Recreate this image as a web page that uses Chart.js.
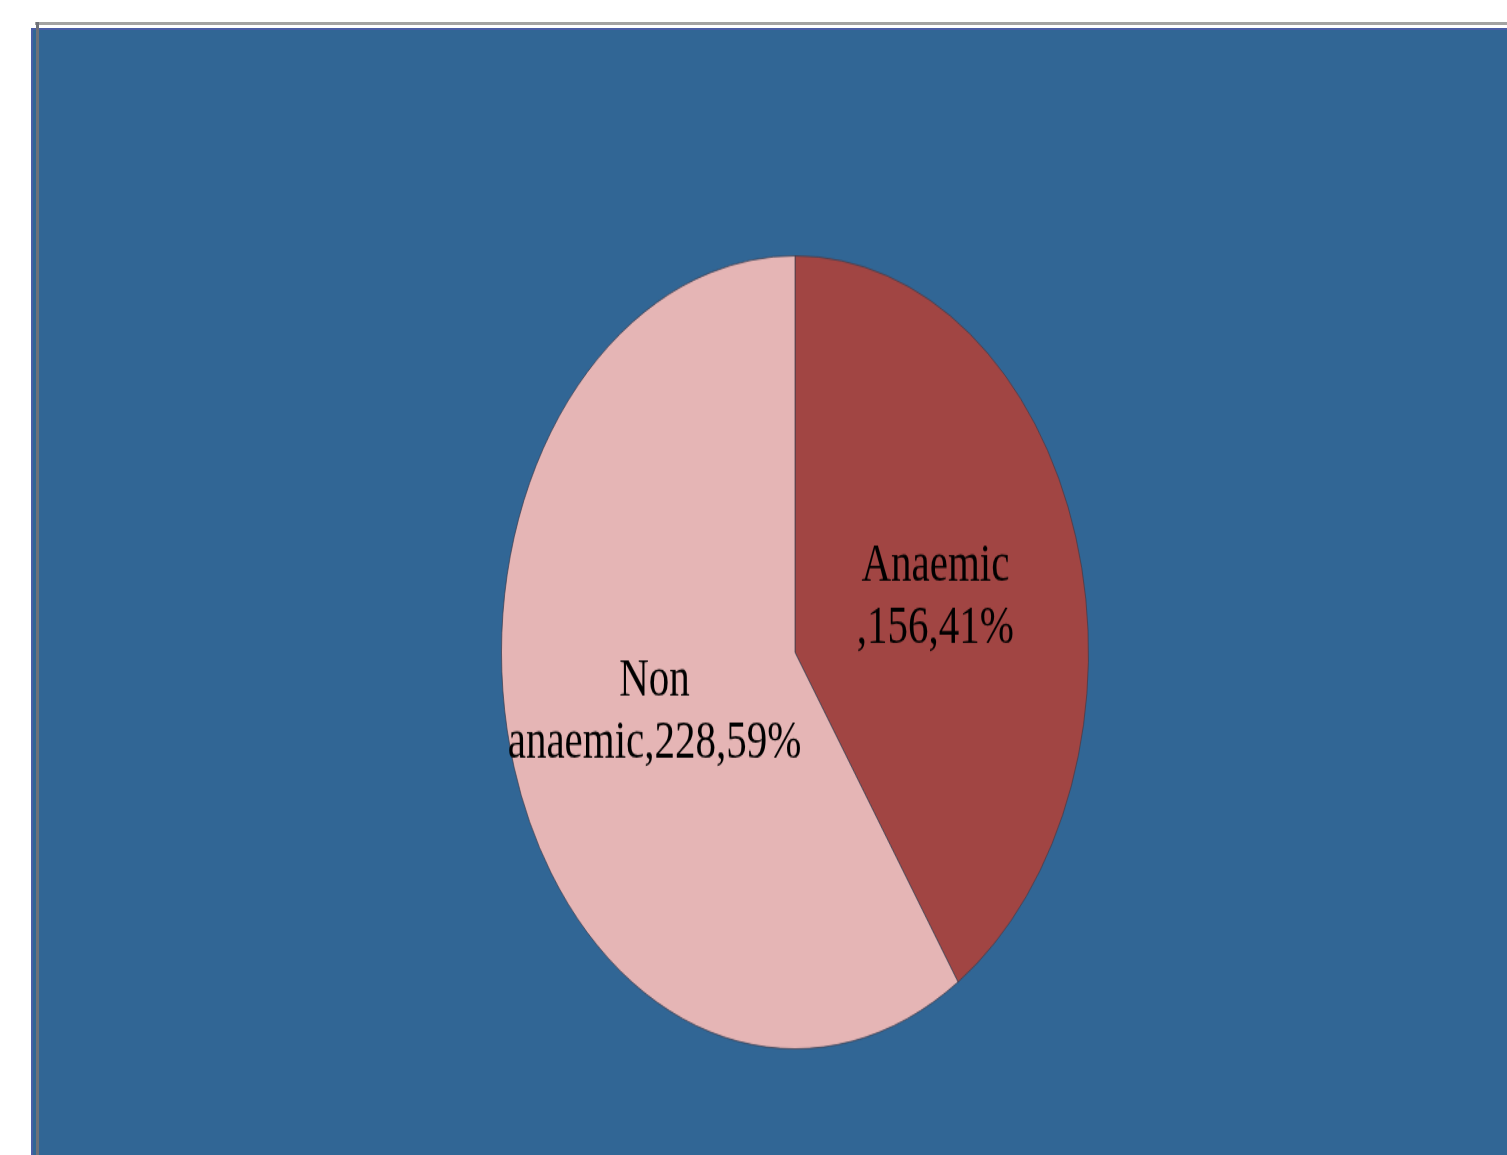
<!DOCTYPE html>
<html>
<head>
<meta charset="utf-8">
<script src="https://cdn.jsdelivr.net/npm/chart.js@4/dist/chart.umd.min.js"></script>
<style>
  html, body { margin: 0; padding: 0; background: #fff; width: 1507px; height: 1155px; overflow: hidden; }
  #panel { position: absolute; left: 31px; top: 28px; right: 0; bottom: 0; background: #316695;
           border-top: 2px solid #4a5ea6; border-left: 2px solid #4a5ea6; box-sizing: border-box; }
  #topLine { position: absolute; left: 35px; top: 22px; right: 0; height: 3px; background: #a3a3a3; }
  #leftLine { position: absolute; left: 36px; top: 22px; width: 3px; bottom: 0; background: #6e7179; }
  #pie { position: absolute; left: 495px; top: 246.5px; transform-origin: 0 0; transform: scaleY(1.351); }
</style>
</head>
<body>
<div id="panel"></div>
<div id="topLine"></div>
<div id="leftLine"></div>
<canvas id="pie" width="600" height="600"></canvas>
<script>
const categories = ['Anaemic', 'Non anaemic'];
const counts = [156, 228];
const percents = [41, 59];
const colors = ['#a14543', '#e5b5b5'];

// split "Anaemic,156,41%" -> ["Anaemic", ",156,41%"], "Non anaemic,228,59%" -> ["Non", "anaemic,228,59%"]
function labelLines(i) {
    const name = categories[i];
    const rest = ',' + counts[i] + ',' + percents[i] + '%';
    const sp = name.indexOf(' ');
    if (sp >= 0) return [name.slice(0, sp), name.slice(sp + 1) + rest];
    return [name, rest];
}

const sliceLabels = {
    id: 'sliceLabels',
    afterDatasetsDraw(chart) {
        const ctx = chart.ctx;
        const meta = chart.getDatasetMeta(0);
        ctx.save();
        ctx.font = '41px "Liberation Serif", "Times New Roman", serif';
        ctx.fillStyle = '#000';
        ctx.textAlign = 'center';
        ctx.textBaseline = 'middle';
        meta.data.forEach((arc, i) => {
            const p = arc.getCenterPoint();
            const lines = labelLines(i);
            ctx.fillText(lines[0], p.x, p.y - 21);
            ctx.fillText(lines[1], p.x, p.y + 25);
        });
        ctx.restore();
    }
};

const ctx = document.getElementById('pie').getContext('2d');
const pieChart = new Chart(ctx, {
    type: 'pie',
    data: {
        labels: categories,
        datasets: [{
            data: counts,
            backgroundColor: colors,
            borderColor: 'rgba(60, 60, 75, 0.7)',
            borderWidth: 1
        }]
    },
    options: {
        responsive: false,
        animation: false,
        layout: { padding: 6 },
        plugins: {
            legend: { display: false },
            tooltip: { enabled: false }
        }
    },
    plugins: [sliceLabels]
});
</script>
</body>
</html>
